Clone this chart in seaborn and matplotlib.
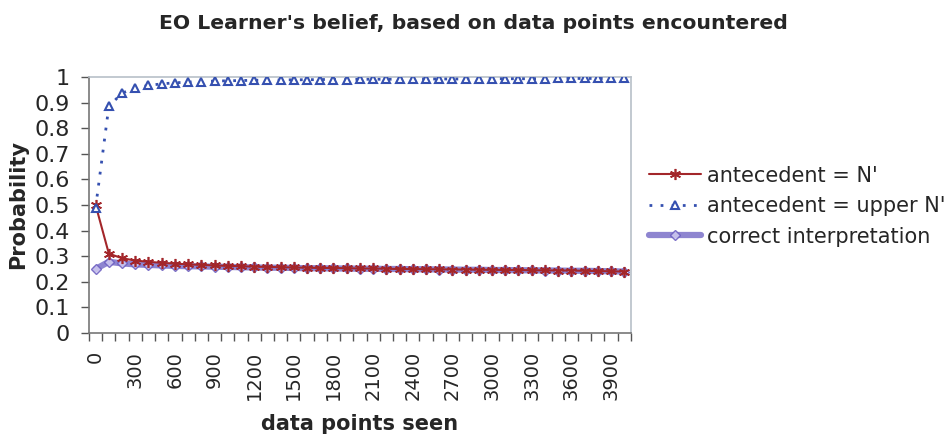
import numpy as np
import pandas as pd
import matplotlib
matplotlib.use("Agg")
import matplotlib.pyplot as plt
from matplotlib.ticker import FixedLocator, FuncFormatter
import seaborn as sns

# =========================
# Datos
# =========================
data_points = list(range(0, 4001, 100))

antecedent_n = [0.50, 0.31, 0.292, 0.283, 0.278, 0.274, 0.271, 0.268, 0.266, 0.264,
                0.262, 0.261, 0.259, 0.258, 0.257, 0.256, 0.255, 0.254, 0.254, 0.253,
                0.252, 0.252, 0.251, 0.250, 0.250, 0.249, 0.249, 0.248, 0.248, 0.247,
                0.247, 0.246, 0.246, 0.245, 0.245, 0.244, 0.244, 0.243, 0.242, 0.241,
                0.240]

antecedent_upper = [0.49, 0.885, 0.937, 0.957, 0.967, 0.973, 0.977, 0.980, 0.982, 0.984,
                    0.985, 0.986, 0.987, 0.988, 0.988, 0.989, 0.989, 0.990, 0.990, 0.990,
                    0.991, 0.991, 0.991, 0.991, 0.992, 0.992, 0.992, 0.992, 0.992, 0.993,
                    0.993, 0.993, 0.993, 0.993, 0.993, 0.994, 0.994, 0.994, 0.994, 0.994,
                    0.994]

correct = [0.25, 0.278, 0.272, 0.268, 0.266, 0.264, 0.262, 0.261, 0.260, 0.259,
           0.258, 0.257, 0.256, 0.255, 0.255, 0.254, 0.253, 0.253, 0.252, 0.252,
           0.251, 0.251, 0.250, 0.250, 0.249, 0.249, 0.248, 0.248, 0.247, 0.247,
           0.246, 0.246, 0.245, 0.245, 0.244, 0.244, 0.243, 0.243, 0.242, 0.241,
           0.240]

labels = ["antecedent = N'", "antecedent = upper N'", "correct interpretation"]

df = pd.DataFrame({
    "x": data_points,
    labels[0]: antecedent_n,
    labels[1]: antecedent_upper,
    labels[2]: correct,
})

# =========================
# Figura
# =========================
sns.set_style("white")
plt.rcParams["font.family"] = ["DejaVu Sans"]

fig = plt.figure(figsize=(9.53, 4.34), dpi=100)
ax = fig.add_axes([0.0934, 0.2327, 0.5685, 0.59])

# linea gruesa violeta (detras)
sns.lineplot(data=df, x="x", y=labels[2], ax=ax, color="#7a70c8", lw=4.5,
             alpha=0.85, marker="D", markersize=5.5, markerfacecolor="#cfcaf0",
             markeredgecolor="#6a5cc0", markeredgewidth=1.0, label=labels[2], zorder=2)
sns.lineplot(data=df, x="x", y=labels[0], ax=ax, color="#a3262a", lw=1.5,
             marker=(6, 2, 0), markersize=8, markeredgecolor="#a3262a",
             markeredgewidth=1.2, label=labels[0], zorder=3)
sns.lineplot(data=df, x="x", y=labels[1], ax=ax, color="#3550b0", lw=2,
             linestyle=(0, (1, 3)), marker="^", markersize=6,
             markerfacecolor="white", markeredgecolor="#3550b0",
             markeredgewidth=1.5, label=labels[1], zorder=3)

ax.set_xlim(-50, 4050)
ax.set_ylim(0, 1)

# ejes estilo Excel
ax.xaxis.set_major_locator(FixedLocator(data_points[::3]))
ax.xaxis.set_minor_locator(FixedLocator(np.arange(-50, 4051, 100)))
ax.tick_params(axis="x", which="major", length=0, labelsize=14, labelrotation=90, pad=13)
ax.tick_params(axis="x", which="minor", length=6, width=1, color="#555555", direction="out")
ax.set_yticks(np.arange(0, 1.01, 0.1))
ax.yaxis.set_major_formatter(FuncFormatter(lambda v, p: f"{v:g}"))
ax.tick_params(axis="y", length=6, width=1, color="#555555", direction="out", labelsize=16, pad=8)
ax.tick_params(axis="both", bottom=True, left=True, which="both")

for s in ["left", "bottom"]:
    ax.spines[s].set_color("#777777")
    ax.spines[s].set_linewidth(1.2)
for s in ["top", "right"]:
    ax.spines[s].set_color("#b8c0c8")
    ax.spines[s].set_linewidth(1.2)

ax.set_xlabel("data points seen", fontsize=15, fontweight="bold", labelpad=10)
ax.set_ylabel("Probability", fontsize=15, fontweight="bold", labelpad=4)
fig.suptitle("EO Learner's belief, based on data points encountered",
             fontsize=14.7, fontweight="bold", x=0.497, y=0.968)

# leyenda en el orden original
handles, labs = ax.get_legend_handles_labels()
order = [labs.index(l) for l in labels]
ax.legend([handles[i] for i in order], [labs[i] for i in order],
          loc="center left", bbox_to_anchor=(0.661, 0.525),
          bbox_transform=fig.transFigure, frameon=False, fontsize=15,
          handlelength=2.5, handletextpad=0.3, labelspacing=0.5)

fig.savefig("out.png", dpi=100)
